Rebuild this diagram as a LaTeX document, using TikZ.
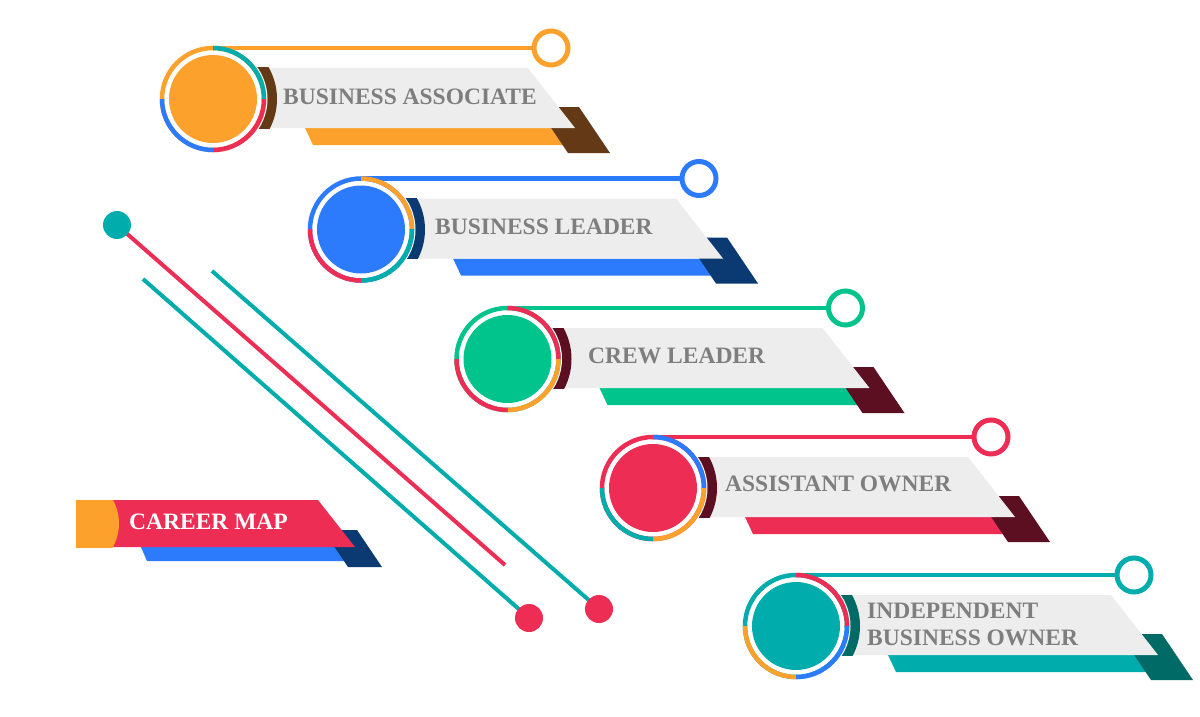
\documentclass[tikz,border=0pt]{standalone}
\usepackage{fontspec}
\setmainfont{Liberation Serif}
\definecolor{corange}{HTML}{FDA12D}
\definecolor{cblue}{HTML}{2B7BFC}
\definecolor{cgreen}{HTML}{00C48C}
\definecolor{cred}{HTML}{EE2D55}
\definecolor{cteal}{HTML}{00ADAC}
\definecolor{cbrown}{HTML}{643A16}
\definecolor{cnavy}{HTML}{0B3972}
\definecolor{cmaroon}{HTML}{5B0F21}
\definecolor{cdteal}{HTML}{006A66}
\definecolor{cband}{HTML}{EDEDED}
\definecolor{ctext}{HTML}{7E7E7E}
\tikzset{
  lbl/.style={font=\fontsize{23.5}{27}\selectfont\bfseries, text=ctext, anchor=base west, inner sep=0pt},
  ringseg/.style={line width=4.5pt},
  deco/.style={line width=4pt, line cap=butt},
  dot/.style={circle, inner sep=0pt, minimum size=28pt},
}
\newcommand\careerrow[8]{%
\begin{scope}[shift={(#1,#2)}]
  \fill[#3] (92,29) -- (375,29) -- (375,46) -- (100,46) -- cycle;
  \fill[#4] (324,8) -- (366,8) -- (397,54) -- (355,54) -- cycle;
  \fill[cband] (40,-31) -- (315,-31) -- (362,29) -- (40,29) -- cycle;
  \begin{scope}
    \clip (0,-31) rectangle (70,29);
    \fill[#4] (0,0) circle (64pt);
  \end{scope}
  \fill[white] (0,0) circle (54.5pt);
  \coordinate (#8-top) at (0,-51);
  \node[circle, draw=#3, line width=5pt, fill=white, minimum size=34pt, inner sep=0pt] (#8-knob) at (338,-51) {};
  \draw[#3, line width=4.5pt] (#8-top) -- (#8-knob.west);
  \draw[#3, ringseg] (0,0) circle (51pt);
  \begin{scope}\clip (0,0) rectangle (60,-60); \draw[#5, ringseg] (0,0) circle (51pt); \end{scope}
  \begin{scope}\clip (0,0) rectangle (60,60); \draw[#6, ringseg] (0,0) circle (51pt); \end{scope}
  \begin{scope}\clip (0,0) rectangle (-60,60); \draw[#7, ringseg] (0,0) circle (51pt); \end{scope}
  \node[circle, fill=#3, minimum size=88pt, inner sep=0pt] (#8) at (0,0) {};
\end{scope}}
\begin{document}
\begin{tikzpicture}[x=1pt,y=-1pt]
\useasboundingbox (0,0) rectangle (1200,717);
% decorative lines
\coordinate (e0) at (505,565);
\coordinate (s1) at (143,279);
\coordinate (s2) at (212,271);
\coordinate (p0) at (117,225);
\coordinate (p1) at (529,618);
\coordinate (p2) at (599,609);
\draw[deco, cred] (p0) -- (e0);
\draw[deco, cteal] (s1) -- (p1);
\draw[deco, cteal] (s2) -- (p2);
\node[dot, fill=cteal] (d0) at (p0) {};
\node[dot, fill=cred] (d1) at (p1) {};
\node[dot, fill=cred] (d2) at (p2) {};
% career map banner
\fill[cblue] (141,547) -- (360,547) -- (360,561) -- (147,561) -- cycle;
\fill[cnavy] (323,530) -- (357,530) -- (382,567) -- (348,567) -- cycle;
\fill[cred] (76,500) -- (318,500) -- (355,547) -- (76,547) -- cycle;
\begin{scope}
  \clip (76,500) rectangle (140,547);
  \fill[corange] (70,523.5) circle (49pt);
\end{scope}
\node[lbl, text=white] (cm) at (129,529) {CAREER MAP};
% rows
\careerrow{213}{99}{corange}{cbrown}{cteal}{cred}{cblue}{r1}
\careerrow{361}{229.5}{cblue}{cnavy}{corange}{cteal}{cred}{r2}
\careerrow{507.5}{359}{cgreen}{cmaroon}{cred}{corange}{cred}{r3}
\careerrow{653}{488}{cred}{cmaroon}{cblue}{corange}{cteal}{r4}
\careerrow{796}{626}{cteal}{cdteal}{cred}{cblue}{corange}{r5}
\node[lbl] (t1) at (283,104) {BUSINESS ASSOCIATE};
\node[lbl] (t2) at (435,234) {BUSINESS LEADER};
\node[lbl] (t3) at (588,363) {CREW LEADER};
\node[lbl] (t4) at (725,491) {ASSISTANT OWNER};
\node[lbl] (t5a) at (867,618) {INDEPENDENT};
\node[lbl] (t5b) at (867,645) {BUSINESS OWNER};
\end{tikzpicture}
\end{document}
